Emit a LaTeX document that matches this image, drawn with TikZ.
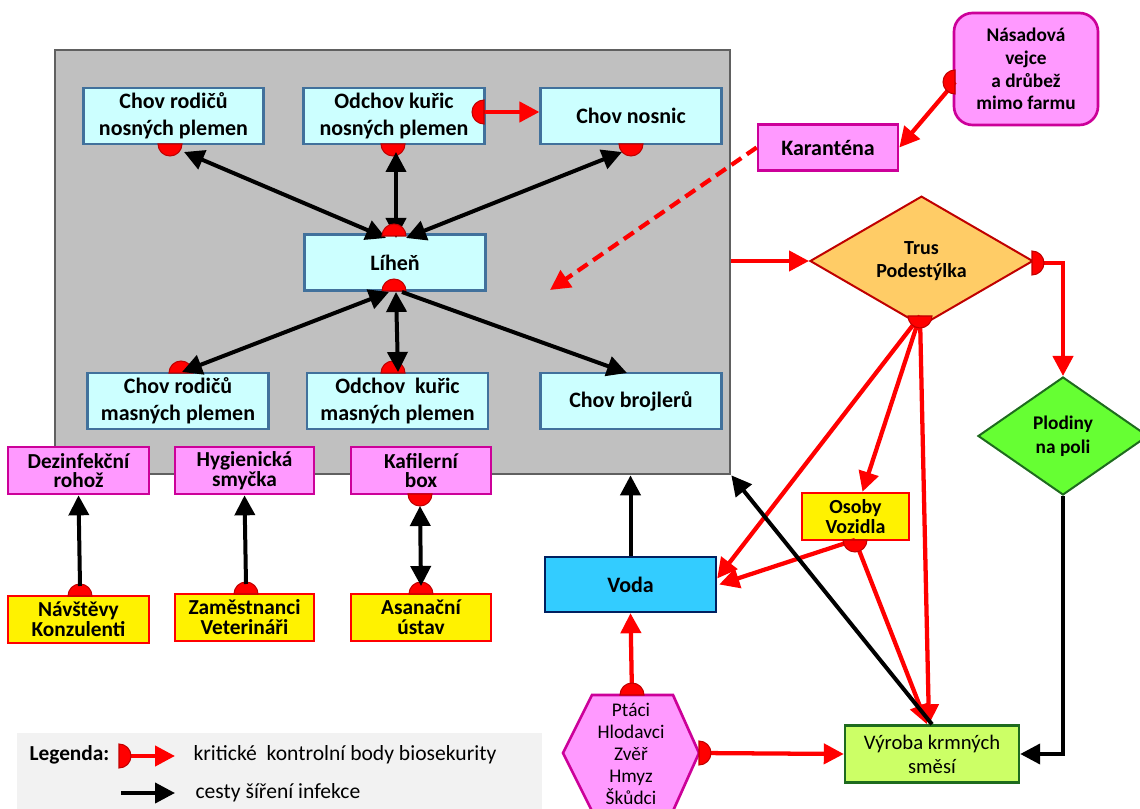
\documentclass[tikz,border=0pt]{standalone}
\usepackage{fontspec}
\setmainfont{Carlito}
\usetikzlibrary{arrows.meta,shapes.geometric,calc}

\definecolor{boxcyan}{HTML}{CCFFFF}
\definecolor{boxblue}{HTML}{41719C}
\definecolor{pinkfill}{HTML}{FF99FF}
\definecolor{pinkline}{HTML}{CC0099}
\definecolor{farmgray}{HTML}{C0C0C0}
\definecolor{farmline}{HTML}{606060}
\definecolor{trusfill}{HTML}{FFCC66}
\definecolor{trusline}{HTML}{C00000}
\definecolor{plodfill}{HTML}{66FF33}
\definecolor{greenline}{HTML}{1E6B1E}
\definecolor{vyrfill}{HTML}{CCFF66}
\definecolor{vodafill}{HTML}{33CCFF}
\definecolor{vodaline}{HTML}{002060}
\definecolor{markred}{HTML}{C00000}
\definecolor{leggray}{HTML}{F2F2F2}

% control point marker: half disc, round side pointing at angle #3
\newcommand\cpmark[3][9pt]{%
  \filldraw[fill=red, draw=markred, line width=0.8pt]
    (#2) ++({#3+90}:#1) arc[start angle={#3+90}, end angle={#3-90}, radius=#1] -- cycle;}

\begin{document}
\begin{tikzpicture}[x=0.75pt,y=-0.75pt,
  sz/.style 2 args={minimum width={#1*0.75pt},minimum height={#2*0.75pt}},
  every node/.style={inner sep=1pt, align=center, text=black},
  fbig/.style={font=\fontsize{16.5}{20}\selectfont\bfseries},
  fmid/.style={font=\fontsize{16}{14.8}\selectfont\bfseries},
  fyel/.style={font=\fontsize{16}{15}\selectfont\bfseries},
  flegend/.style={font=\fontsize{16.2}{18}\selectfont},
  farmbox/.style={draw=boxblue, fill=boxcyan, line width=1.6pt, fbig},
  pinkbox/.style={draw=pinkline, fill=pinkfill, line width=2pt},
  yelbox/.style={draw=red, fill=yellow, line width=1.8pt},
  >={Triangle[length=15pt,width=15pt]},
  blk/.style={draw=black, line width=3pt},
  rdl/.style={draw=red, line width=3.2pt},
]
\useasboundingbox (0,0) rectangle (1140,809);

% ---------- farm area ----------
\node[draw=farmline, fill=farmgray, line width=2pt, sz={675}{424}] (farm) at (392.5,262) {};

\node[farmbox, sz={180}{56}] (rn) at (173.5,116) {Chov rodičů\\nosných plemen};
\node[farmbox, sz={181}{56}] (on) at (394,116) {Odchov kuřic\\nosných plemen};
\node[farmbox, sz={181}{56}] (cn) at (631,116) {Chov nosnic};
\node[farmbox, sz={181}{56}] (lh) at (395,262.5) {Líheň};
\node[farmbox, sz={181}{56}] (rm) at (178,401) {Chov rodičů\\masných plemen};
\node[farmbox, sz={181}{56}] (om) at (397.5,401) {Odchov\ \ kuřic\\masných plemen};
\node[farmbox, sz={181}{56}] (cb) at (631,401) {Chov brojlerů};

% ---------- outside ----------
\node[pinkbox, fbig, sz={140}{46}] (kar) at (828,147.5) {Karanténa};
\node[pinkbox, rounded corners=14pt, sz={144}{112}, font=\fontsize{14.5}{17}\selectfont\bfseries]
  (nv) at (1026,69) {Násadová\\vejce\\a drůbež\\mimo farmu};

\node[diamond, draw=trusline, fill=trusfill, line width=1.5pt, sz={223}{108}, inner sep=0pt,
  font=\fontsize{15}{17.5}\selectfont\bfseries] (tr) at (921.5,261) {Trus\\Podestýlka};
\node[diamond, draw=greenline, fill=plodfill, line width=1.5pt, sz={170}{118}, inner sep=0pt,
  font=\fontsize{14.5}{18}\selectfont\bfseries] (pl) at (1063,436) {Plodiny\\na poli};

\node[yelbox, sz={107}{47}, font=\fontsize{15}{15}\selectfont\bfseries] (os) at (855.5,516.5) {Osoby\\Vozidla};
\node[draw=vodaline, fill=vodafill, line width=1.8pt, sz={171}{55}, fbig] (vo) at (630.5,584.5) {Voda};
\node[draw=greenline, fill=vyrfill, line width=1.8pt, sz={174}{57},
  font=\fontsize{15.5}{18}\selectfont] (vy) at (932,754) {Výroba krmných\\směsí};

\draw[pinkbox] (592,695) -- (673,695) -- (699,753) -- (673,811) -- (592,811) -- (563,753) -- cycle;
\node[font=\fontsize{14.5}{16.5}\selectfont] (hx) at (631,754) {Ptáci\\Hlodavci\\Zvěř\\Hmyz\\Škůdci};

% ---------- lower left ----------
\node[pinkbox, sz={141}{47}, fmid] (dz) at (78.5,470.5) {Dezinfekční\\rohož};
\node[pinkbox, sz={139}{47}, fmid] (hs) at (244.5,470.5) {Hygienická\\smyčka};
\node[pinkbox, sz={140}{47}, fmid] (kb) at (421,470.5) {Kafilerní\\box};
\node[yelbox, sz={141}{47}, fyel] (nk) at (78.5,619.5) {Návštěvy\\Konzulenti};
\node[yelbox, sz={139}{47}, fyel] (zv) at (244.5,617.5) {Zaměstnanci\\Veterináři};
\node[yelbox, sz={140}{47}, fyel] (au) at (421,617.5) {Asanační\\ústav};

% ---------- legend ----------
\node[fill=leggray, sz={525}{77}, anchor=north west, inner sep=0pt] (leg) at (17,733) {};
\node[anchor=west, font=\fontsize{16}{18}\selectfont\bfseries] (lgt) at (28,755) {Legenda:};
\node[anchor=west, flegend] (lg1) at (192,755) {kritické\ \ kontrolní body biosekurity};
\node[anchor=west, flegend] (lg2) at (194,793) {cesty šíření infekce};
\coordinate (lgm) at (119,756);
\coordinate (lgr) at (175,756);
\coordinate (lga) at (121,793);
\coordinate (lgb) at (175,793);

% ---------- control point positions ----------
\coordinate (m-rn) at (170,144);
\coordinate (m-on) at (393,144);
\coordinate (m-cn) at (631,144);
\coordinate (m-lht) at (394,236);
\coordinate (m-lhb) at (394,291);
\coordinate (m-rm) at (181,373);
\coordinate (m-om) at (393,373);
\coordinate (m-onr) at (484,112);
\coordinate (m-nv) at (955,82);
\coordinate (m-tr) at (1032,263);
\coordinate (m-tb) at (920,316);
\coordinate (m-os) at (855,540);
\coordinate (m-ht) at (632,695);
\coordinate (m-hr) at (699,753);
\coordinate (m-nk) at (80,596);
\coordinate (m-zv) at (246,594);
\coordinate (m-kb) at (420,494);
\coordinate (m-au) at (421,594);

% arrow ends inside the farm
\coordinate (lt1) at (386,238);
\coordinate (lt2) at (396,238);
\coordinate (lt3) at (406,238);
\coordinate (t-rn) at (184,152);
\coordinate (t-on) at (396,152);
\coordinate (t-cn) at (622,152);
\coordinate (lb1) at (389,292);
\coordinate (lb2) at (396,292);
\coordinate (lb3) at (402,292);
\coordinate (t-rm) at (182,372);
\coordinate (t-om) at (398,372);
\coordinate (t-cb) at (627,373);
\coordinate (dtip) at (550,290);

% ---------- red connectors ----------
\draw[rdl,->] (m-onr) -- (cn.west |- m-onr);
\draw[rdl,->] (m-nv) -- (kar.east);
\draw[rdl,dash pattern=on 9pt off 5pt,->] (kar.west) -- (dtip);
\draw[rdl,->] (farm.east |- tr.west) -- (tr.west);
\draw[rdl,->] (m-tr) -| (pl.north);
\draw[rdl,->] (m-tb) -- ($(vo.east)+(0,-6)$);
\draw[rdl,->] (m-tb) -- ($(os.north)+(7,0)$);
\draw[rdl,->] (m-tb) -- ($(vy.north)+(-3,0)$);
\draw[rdl,->] (m-os) -- ($(vo.east)+(2,0)$);
\draw[rdl,->] (m-os) -- ($(vy.north)+(-5,0)$);
\draw[rdl,->] (m-ht) -- (vo.south);
\draw[rdl,->] (m-hr) -- (vy.west);
\draw[rdl,->] (lgm) -- (lgr);

% ---------- control points ----------
\cpmark{m-rn}{-90}
\cpmark{m-on}{-90}
\cpmark{m-cn}{-90}
\cpmark{m-lhb}{90}
\cpmark{m-rm}{90}
\cpmark{m-om}{90}
\cpmark{m-onr}{180}
\cpmark{m-nv}{180}
\cpmark{m-tr}{0}
\cpmark{m-tb}{-90}
\cpmark{m-os}{-90}
\cpmark{m-ht}{90}
\cpmark{m-hr}{0}
\cpmark{m-nk}{90}
\cpmark{m-zv}{90}
\cpmark{m-kb}{-90}
\cpmark{m-au}{90}
\cpmark{lgm}{0}

% ---------- black connectors ----------
\draw[blk,<->] (lt1) -- (t-rn);
\draw[blk,<->] (lt2) -- (t-on);
\draw[blk,<->] (lt3) -- (t-cn);
\draw[blk,<->] (lb1) -- (t-rm);
\draw[blk,<->] (lb2) -- (t-om);
\draw[blk,->] (lb3) -- (t-cb);
\draw[blk,->] (vo.north) -- (vo.north |- farm.south);
\draw[blk,->] (vy.north) -- (farm.south east);
\draw[blk,->] (pl.south) |- (vy.east);
\draw[blk,->] ($(m-nk)+(0,-10)$) -- (dz.south);
\draw[blk,->] ($(m-zv)+(0,-10)$) -- (hs.south);
\draw[blk,<->] ($(m-kb)+(0,12)$) -- ($(m-au)+(0,-8)$);
\draw[blk,->] (lga) -- (lgb);

\cpmark{m-lht}{90}
\end{tikzpicture}
\end{document}
